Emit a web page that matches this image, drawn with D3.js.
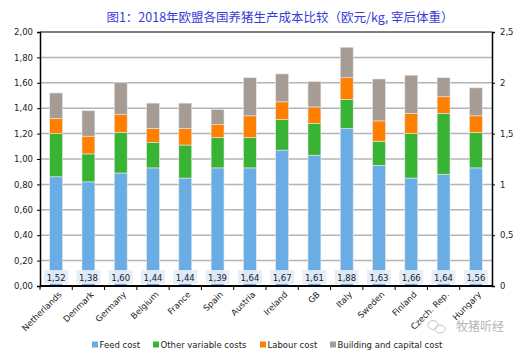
<!DOCTYPE html>
<html><head><meta charset="utf-8">
<script src="https://cdn.jsdelivr.net/npm/d3@7"></script>
<style>body{margin:0;background:#fff}svg{display:block}</style>
</head><body>
<script>
const categories = ["Netherlands","Denmark","Germany","Belgium","France","Spain","Austria","Ireland","GB","Italy","Sweden","Finland","Czech. Rep.","Hungary"];
const feedCost     = [0.86,0.82,0.89,0.93,0.85,0.93,0.93,1.07,1.03,1.24,0.95,0.85,0.88,0.93];
const otherVarCost = [0.34,0.22,0.32,0.20,0.26,0.24,0.24,0.24,0.25,0.23,0.19,0.35,0.48,0.28];
const labourCost   = [0.12,0.14,0.14,0.11,0.13,0.10,0.17,0.14,0.13,0.17,0.16,0.16,0.13,0.13];
const buildCost    = [0.20,0.20,0.25,0.20,0.20,0.12,0.30,0.22,0.20,0.24,0.33,0.30,0.15,0.22];
const totals       = ["1,52","1,38","1,60","1,44","1,44","1,39","1,64","1,67","1,61","1,88","1,63","1,66","1,64","1,56"];
const seriesNames  = ["Feed cost","Other variable costs","Labour cost","Building and capital cost"];
const leftTicks    = [0,0.2,0.4,0.6,0.8,1.0,1.2,1.4,1.6,1.8,2.0];
const rightTicks   = [0,0.5,1,1.5,2,2.5];
const colors = ["#6aade4","#38b334","#ff7f00","#a69c94"];

const W=525,H=358;
const svg=d3.select("body").append("svg").attr("width",W).attr("height",H);
const m={l:40,r:33,t:32,b:72};
const x=d3.scaleBand().domain(categories).range([m.l,W-m.r]).paddingInner(0.6).paddingOuter(0.3);
const xb=d3.scaleBand().domain(categories).range([m.l,W-m.r]);
const y=d3.scaleLinear().domain([0,2]).range([H-m.b,m.t]);
const y2=d3.scaleLinear().domain([0,2.5]).range([H-m.b,m.t]);

// title
svg.append("text").attr("x",280).attr("y",22).attr("text-anchor","middle")
  .attr("font-family","'Noto Sans CJK SC'").attr("font-size",12.5).attr("fill","#3a3ad8")
  .text("图1：2018年欧盟各国养猪生产成本比较（欧元/kg, 宰后体重）");

// grid
svg.append("g").selectAll("line").data(leftTicks.filter(d=>d>0&&d<2)).join("line")
  .attr("x1",m.l).attr("x2",W-m.r).attr("y1",d=>y(d)).attr("y2",d=>y(d))
  .attr("stroke","#b4b4b4").attr("stroke-width",1.5);
svg.append("line").attr("x1",m.l).attr("x2",W-m.r).attr("y1",y(2)).attr("y2",y(2)).attr("stroke","#000").attr("stroke-width",1.2);

// stacks
const rows=categories.map((c,i)=>({c,s0:feedCost[i],s1:otherVarCost[i],s2:labourCost[i],s3:buildCost[i]}));
const stack=d3.stack().keys(["s0","s1","s2","s3"])(rows);
svg.append("g").selectAll("g").data(stack).join("g").attr("fill",(d,i)=>colors[i])
  .selectAll("rect").data(d=>d).join("rect")
  .attr("x",d=>x(d.data.c)).attr("width",x.bandwidth())
  .attr("y",d=>y(d[1])).attr("height",d=>y(d[0])-y(d[1]))
  .attr("stroke","#e8e8e8").attr("stroke-width",0.6);

// total labels
const lg=svg.append("g");
categories.forEach((c,i)=>{
  const cx=x(c)+x.bandwidth()/2;
  lg.append("rect").attr("x",cx-12).attr("y",y(0)-16).attr("width",24).attr("height",14)
    .attr("fill","#e3eef9").attr("opacity",0.92);
  lg.append("text").attr("x",cx).attr("y",y(0)-5.5).attr("text-anchor","middle")
    .attr("font-family","'DejaVu Sans'").attr("font-size",8.5).attr("fill","#222").text(totals[i]);
});

// axes
const fmt=d=>d3.format(".2f")(d).replace(".",",");
const ax=svg.append("g").attr("transform",`translate(${m.l},0)`)
  .call(d3.axisLeft(y).tickValues(leftTicks).tickFormat(fmt).tickSize(3).tickPadding(4));
ax.select(".domain").attr("stroke","#000").attr("stroke-width",1.5);
ax.selectAll("text").attr("font-family","'DejaVu Sans'").attr("font-size",8.5).attr("fill","#222");
const ar=svg.append("g").attr("transform",`translate(${W-m.r},0)`)
  .call(d3.axisRight(y2).tickValues(rightTicks).tickFormat(d=>String(d).replace(".",",")).tickSize(3).tickPadding(5));
ar.select(".domain").attr("stroke","#000").attr("stroke-width",1.5);
ar.selectAll("text").attr("font-family","'DejaVu Sans'").attr("font-size",8.5).attr("fill","#222");

// bottom axis
svg.append("line").attr("x1",m.l).attr("x2",W-m.r).attr("y1",y(0)).attr("y2",y(0)).attr("stroke","#000").attr("stroke-width",1.8);
svg.append("g").selectAll("line").data(categories).join("line")
  .attr("x1",d=>xb(d)).attr("x2",d=>xb(d)).attr("y1",y(0)).attr("y2",y(0)+4).attr("stroke","#000").attr("stroke-width",1);
svg.append("g").selectAll("text").data(categories).join("text")
  .attr("transform",d=>`translate(${xb(d)+xb.bandwidth()/2+6},${y(0)+9}) rotate(-45)`)
  .attr("text-anchor","end").attr("font-family","'DejaVu Sans'").attr("font-size",8.5).attr("fill","#222")
  .text(d=>d);

// legend
const legX=[92,153,260,330];
const leg=svg.append("g").selectAll("g").data(seriesNames).join("g")
  .attr("transform",(d,i)=>`translate(${legX[i]},345)`);
leg.append("rect").attr("x",0).attr("y",-3.5).attr("width",6).attr("height",6).attr("fill",(d,i)=>colors[i]);
leg.append("text").attr("x",7.5).attr("y",3.2).attr("font-family","'DejaVu Sans'").attr("font-size",8.5).attr("fill","#222").text(d=>d);

// watermark
const wm=svg.append("g").attr("opacity",0.55);
wm.append("ellipse").attr("cx",433).attr("cy",325).attr("rx",5).attr("ry",4.5).attr("fill","none").attr("stroke","#999");
wm.append("ellipse").attr("cx",440).attr("cy",329).attr("rx",5).attr("ry",4).attr("fill","none").attr("stroke","#999");
wm.append("text").attr("x",456).attr("y",331).attr("font-family","'Noto Sans CJK SC'").attr("font-size",12).attr("fill","#777").text("牧猪听经");
</script>
</body></html>
